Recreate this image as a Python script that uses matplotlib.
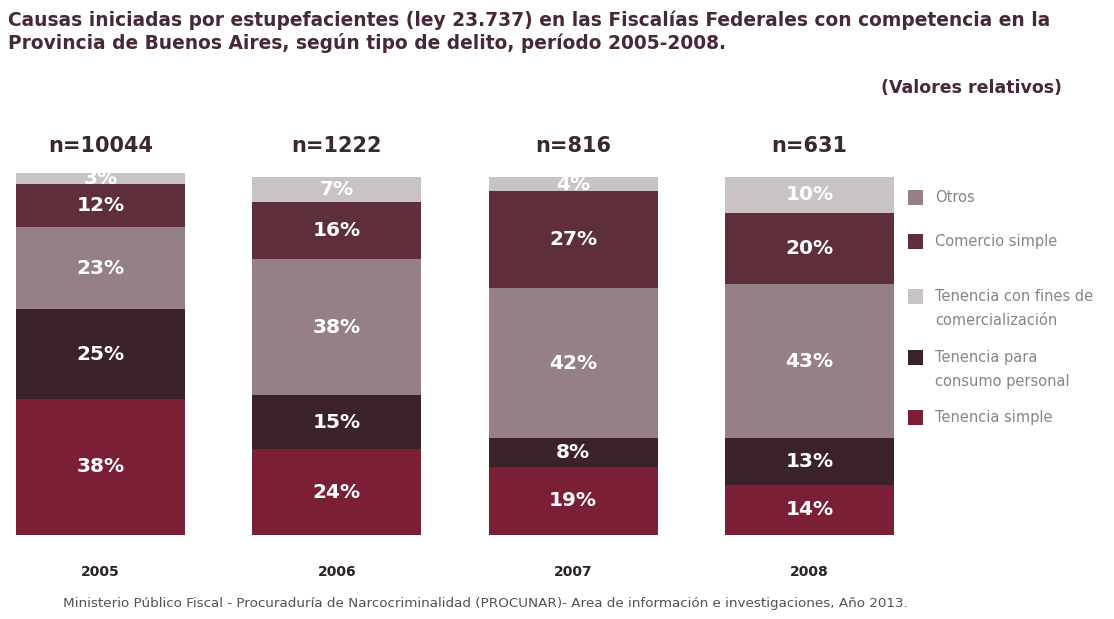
import numpy as np
import matplotlib.pyplot as plt
from matplotlib.patches import Rectangle

years = ["2005", "2006", "2007", "2008"]
totals = ["n=10044", "n=1222", "n=816", "n=631"]

# stacked bottom -> top
tenencia_simple = [38, 24, 19, 14]
consumo_personal = [25, 15, 8, 13]
otros = [23, 38, 42, 43]
comercio_simple = [12, 16, 27, 20]
fines_comercializacion = [3, 7, 4, 10]

series = [tenencia_simple, consumo_personal, otros, comercio_simple, fines_comercializacion]
colors = ["#7b1f36", "#3b2228", "#968088", "#5e2f3b", "#c9c3c5"]

legend_labels = ["Otros", "Comercio simple", "Tenencia con fines de\ncomercialización",
                 "Tenencia para\nconsumo personal", "Tenencia simple"]
legend_colors = ["#968088", "#5e2f3b", "#c9c3c5", "#3b2228", "#7b1f36"]

W, H = 1114, 619
fig = plt.figure(figsize=(W / 100, H / 100), dpi=100)
fig.patch.set_facecolor("white")

# axes placed in pixel terms: bars from x=16 to 894, y from 535 (0%) to 177 (100%)
ax = fig.add_axes([16 / W, (H - 535) / H, (894 - 16) / W, (535 - 177) / H])
ax.set_xlim(-0.3575, 3.3575)
ax.set_ylim(0, 100)
ax.axis("off")

x = np.arange(len(years))
bottom = np.zeros(len(years))
for vals, col in zip(series, colors):
    vals = np.array(vals, dtype=float)
    ax.bar(x, vals, bottom=bottom, width=0.715, color=col, edgecolor="none", clip_on=False)
    for xi, b, v in zip(x, bottom, vals):
        ax.text(xi, b + v / 2, f"{int(v)}%", ha="center", va="center", color="white",
                fontsize=14.5, fontweight="bold", clip_on=False)
    bottom += vals

trans = ax.get_xaxis_transform()
for xi, n, yr in zip(x, totals, years):
    ax.text(xi, 1 + 31 / 358, n, transform=trans, ha="center", va="center",
            fontsize=15, fontweight="bold", color="#3a2a30")
    ax.text(xi, -37 / 358, yr, transform=trans, ha="center", va="center",
            fontsize=10, fontweight="bold", color="#2b2226")

title_col = "#47283a"
fig.text(8 / W, 1 - 20 / H, "Causas iniciadas por estupefacientes (ley 23.737) en las Fiscalías Federales con competencia en la",
         ha="left", va="center", fontsize=13.4, fontweight="bold", color=title_col)
fig.text(8 / W, 1 - 43 / H, "Provincia de Buenos Aires, según tipo de delito, período 2005-2008.",
         ha="left", va="center", fontsize=13.4, fontweight="bold", color=title_col)
fig.text(1062 / W, 1 - 88 / H, "(Valores relativos)", ha="right", va="center",
         fontsize=12.5, fontweight="bold", color=title_col)

# legend
leg_y = [198, 242, 297, 358, 418]
for yy, lab, col in zip(leg_y, legend_labels, legend_colors):
    fig.patches.append(Rectangle((908 / W, 1 - (yy + 7) / H), 15 / W, 15 / H,
                                 transform=fig.transFigure, facecolor=col, edgecolor="none"))
    fig.text(935 / W, 1 - (yy - 8) / H, lab, ha="left", va="top", fontsize=10.5,
             color="#8a8486", linespacing=1.75)

fig.text(63 / W, 1 - 604 / H,
         "Ministerio Público Fiscal - Procuraduría de Narcocriminalidad (PROCUNAR)- Area de información e investigaciones, Año 2013.",
         ha="left", va="center", fontsize=9.7, color="#555053")

fig.savefig("out.png", dpi=100, facecolor="white")
